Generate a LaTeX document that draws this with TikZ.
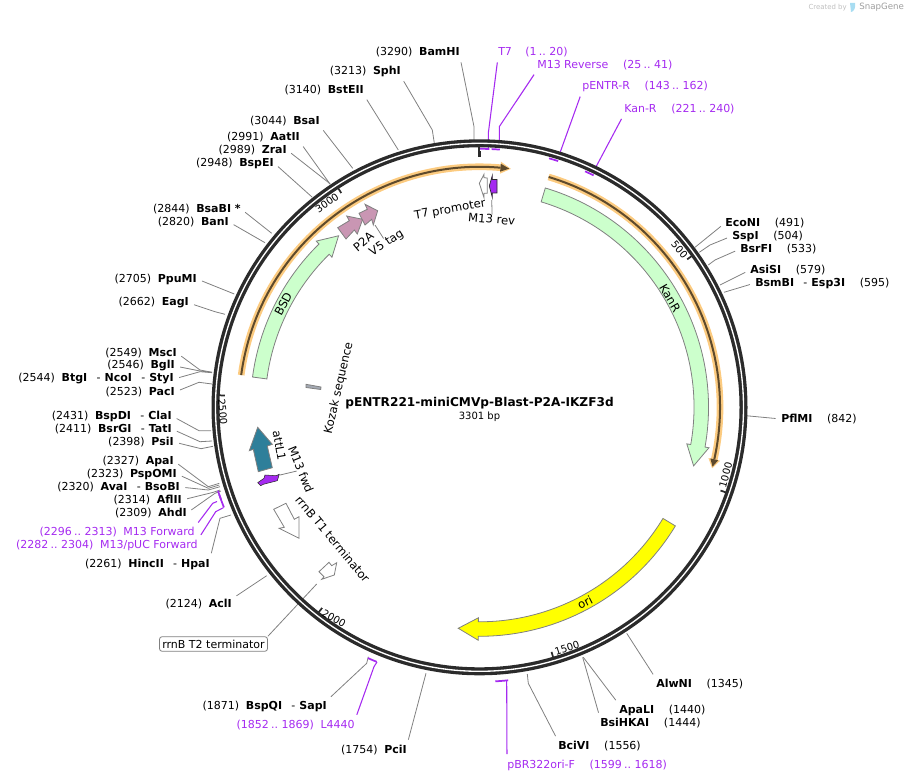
\documentclass[tikz,border=0pt]{standalone}
\usepackage{fontspec}
\setmainfont{DejaVu Sans}
\definecolor{ringdark}{HTML}{2B2B2B}
\definecolor{sitegrey}{HTML}{808080}
\definecolor{primerpurple}{HTML}{A52AF0}
\definecolor{bandorange}{HTML}{FCCB80}
\definecolor{banddark}{HTML}{5E4A2C}
\definecolor{greenfeat}{HTML}{CCFFCC}
\definecolor{yellowfeat}{HTML}{FFFF00}
\definecolor{pinkfeat}{HTML}{C996B3}
\definecolor{tealfeat}{HTML}{2E7F9A}
\definecolor{greyfeat}{HTML}{A3A9B3}
\definecolor{logoblue}{HTML}{A8DDF2}
\newcommand{\sitel}[2]{#1\hspace{5pt}\textbf{#2}}
\newcommand{\siter}[2]{\textbf{#1}\hspace{11pt}#2}
\newcommand{\dd}[1]{\hspace{7pt}{\normalfont-}\hspace{3pt}#1}
\newcommand{\rg}[2]{{\spaceskip=1.7pt (#1 .. #2)}}
\newcommand{\featarc}[4]{%
  \draw[feat,#1] (#2:229) arc[start angle=#2,end angle=#3,radius=229] -- (#3:233) -- (#4:222)
    -- (#3:210.5) -- (#3:214.5) arc[start angle=#3,end angle=#2,radius=214.5] -- cycle;}
\newcommand{\bandarc}[3]{%
  \draw[line width=5pt,bandorange] (#1:240.5) arc[start angle=#1,end angle=#2,radius=240.5];
  \fill[bandorange] (#2:246.5) -- (#3:240.5) -- (#2:234.5) -- cycle;
  \draw[line width=1.5pt,banddark] (#1:240.5) arc[start angle=#1,end angle=#2,radius=240.5];
  \fill[banddark] (#2:244.5) -- (#3+0.4:240.5) -- (#2:236.5) -- cycle;}
\tikzset{
  sitelab/.style={inner sep=0pt,font=\fontsize{8.25}{10}\selectfont},
  primerlab/.style={sitelab,text=primerpurple},
  featlab/.style={inner sep=0pt,font=\fontsize{8.7}{10}\selectfont},
  ticklab/.style={inner sep=0pt,font=\fontsize{7.5}{9}\selectfont},
  siteline/.style={draw=sitegrey,line width=0.6pt,shorten <=4pt},
  primerline/.style={draw=primerpurple,line width=0.8pt,shorten <=4pt},
  feat/.style={draw=sitegrey,line width=0.6pt,line join=miter},
  tick/.style={draw=ringdark,line width=1.3pt}
}
\begin{document}
\begin{tikzpicture}[x=0.75pt,y=0.75pt]
  \useasboundingbox (0,0) rectangle (907,-781);
  \coordinate (O) at (479.5,-407.3);

  % restriction sites
  \foreach \nm/\xx/\yy/\anc/\att/\txt/\kx/\ky/\ex/\ey in {
    bamhi/460/52/east/south east/{\sitel{(3290)}{BamHI}}/474/126.7/474/141,
    sphi/401/71/east/south east/{\sitel{(3213)}{SphI}}/432.3/130/434.3/143,
    bsteii/364/90/east/south east/{\sitel{(3140)}{BstEII}}/398.3/150/398.3/150,
    bsai/320/121/east/south east/{\sitel{(3044)}{BsaI}}/352.7/168.3/352.7/168.3,
    aatii/300/137/east/south east/{\sitel{(2991)}{AatII}}/330/184/330/184,
    zrai/287/150/east/east/{\sitel{(2989)}{ZraI}}/328.5/182.5/330/184,
    bspei/274/163/east/east/{\sitel{(2948)}{BspEI}}/312/197/312/197,
    bsabi/241/209/east/east/{\sitel{(2844)}{BsaBI *}}/271.7/233.3/271.7/233.3,
    bani/229/222/east/east/{\sitel{(2820)}{BanI}}/265/242.7/265/242.7,
    ppumi/197/279/east/east/{\sitel{(2705)}{PpuMI}}/234.3/294/234.3/294,
    eagi/189/303/east/east/{\sitel{(2662)}{EagI}}/215/311.7/225/314.3,
    msci/177/353/east/east/{\sitel{(2549)}{MscI}}/200/370/212/372.3,
    bgli/175/366/east/east/{\sitel{(2546)}{BglI}}/200/371/212/372.3,
    btgi/174/379/east/east/{\sitel{(2544)}{BtgI\dd{NcoI}\dd{StyI}}}/200/371.7/212/372.7,
    paci/175/392/east/east/{\sitel{(2523)}{PacI}}/199/382.3/212/384,
    bspdi/172/416/east/east/{\sitel{(2431)}{BspDI\dd{ClaI}}}/199/430.7/211/430.7,
    bsrgi/172/429/east/east/{\sitel{(2411)}{BsrGI\dd{TatI}}}/200/441.7/212/441,
    psii/174/442/east/east/{\sitel{(2398)}{PsiI}}/201/448.7/213/446.3,
    apai/174/461/east/east/{\sitel{(2327)}{ApaI}}/208.3/486.7/219.3/483.3,
    pspomi/177/474/east/east/{\sitel{(2323)}{PspOMI}}/208.3/488.3/219.3/485,
    avai/180/487/east/east/{\sitel{(2320)}{AvaI\dd{BsoBI}}}/208.3/490/220/486.7,
    aflii/182/500/east/east/{\sitel{(2314)}{AflII}}/213.3/492.3/220/490,
    ahdi/187/513/east/east/{\sitel{(2309)}{AhdI}}/215/493.3/221/491,
    hincii/210/564/east/north east/{\sitel{(2261)}{HincII\dd{HpaI}}}/220/518.3/231/515,
    acli/232/604/east/north east/{\sitel{(2124)}{AclI}}/266.7/575.7/266.7/575.7,
    bspqi/327/706/east/north east/{\sitel{(1871)}{BspQI\dd{SapI}}}/366.7/663.3/368.3/656.7,
    pcii/407/750/east/north east/{\sitel{(1754)}{PciI}}/426/673.3/426/673.3,
    econi/725/223/west/west/{\siter{EcoNI}{(491)}}/695/247.3/695/247.3,
    sspi/732/236/west/west/{\siter{SspI}{(504)}}/710/245/699.3/252.3,
    bsrfi/740/249/west/west/{\siter{BsrFI}{(533)}}/715/260/708.3/265,
    asisi/750/270/west/west/{\siter{AsiSI}{(579)}}/720/285/720/285,
    bsmbi/755/283/west/west/{\siter{BsmBI\dd{Esp3I}}{(595)}}/724/292.3/724/292.3,
    pflmi/781/419/west/west/{\siter{PflMI}{(842)}}/746/415.7/746/415.7,
    alwni/656/684/west/north west/{\siter{AlwNI}{(1345)}}/626.7/633.3/626.7/633.3,
    apali/619/710/west/north west/{\siter{ApaLI}{(1440)}}/583.3/657.3/583.3/657.3,
    bsihkai/600/723/west/north west/{\siter{BsiHKAI}{(1444)}}/582.7/657.3/582.7/657.3,
    bcivi/558/746/west/north west/{\siter{BciVI}{(1556)}}/528.3/683.3/527.3/674}
  {
    \node[sitelab,anchor=\anc] (\nm) at (\xx,-\yy) {\txt};
    \coordinate (\nm-k) at (\kx,-\ky);
    \coordinate (\nm-e) at (\ex,-\ey);
    \draw[siteline] (\nm.\att) -- (\nm-k) -- (\nm-e);
  }

  % primers
  \foreach \nm/\xx/\yy/\anc/\att/\txt/\kx/\ky/\ex/\ey in {
    tsev/498/52/west/south west/{T7\hspace{10pt}\rg{1}{20}}/488.3/133.3/488.3/148,
    mrev/537/65/west/south west/{M13 Reverse\hspace{11pt}\rg{25}{41}}/499.3/126.7/499.3/148,
    pentr/582/86/west/south west/{pENTR-R\hspace{11pt}\rg{143}{162}}/561/150/558/158,
    kanr/624/109/west/south west/{Kan-R\hspace{11pt}\rg{221}{240}}/597/165/591/172,
    mfwd/195/532/east/north east/{\rg{2296}{2313}\hspace{5pt}M13 Forward}/212.7/503.3/217/501.5,
    mpuc/198/545/east/north east/{\rg{2282}{2304}\hspace{5pt}M13/pUC Forward}/215.7/511.7/223.3/507.7,
    lfour/355/725/east/north east/{\rg{1852}{1869}\hspace{5pt}L4440}/374/666.7/377/662,
    pbr/507/765/west/north west/{pBR322ori-F\hspace{11pt}\rg{1599}{1618}}/506.7/683.3/506.7/681}
  {
    \node[primerlab,anchor=\anc] (\nm) at (\xx,-\yy) {\txt};
    \coordinate (\nm-k) at (\kx,-\ky);
    \coordinate (\nm-e) at (\ex,-\ey);
    \draw[primerline] (\nm.\att) -- (\nm-k) -- (\nm-e);
  }

  % terminator box
  \node[sitelab,draw=sitegrey,rounded corners=2pt,line width=0.6pt,minimum width=81pt,minimum height=11pt] (tt) at (213.5,-644) {rrnB T2 terminator};
  \coordinate (tt-e) at (316.7,-584);
  \draw[siteline,shorten <=0pt] (tt.north east) -- (tt-e);

  % backbone
  \draw[line width=6pt,ringdark] (O) circle[radius=264];
  \draw[line width=1pt,white] (O) circle[radius=264];

  \begin{scope}[shift={(O)}]
    % ticks every 500 bp
    \foreach \pos in {500,1000,...,3000}
    {
      \draw[tick] ({90-\pos/3301*360}:262) -- ({90-\pos/3301*360}:255);
    }
    % primer bars
    \foreach \sa/\ea/\rad in {89.9/87.8/258.5, 87.3/85.5/258.5, 74.4/72.3/258.5, 65.9/63.8/258.5,
      -84/-86.7/274.5, -112/-114/274.5, -158.6/-161.4/274.5, -160.4/-162.3/274.5}
    {
      \draw[primerpurple,line width=1.3pt] (\sa:\rad) arc[start angle=\sa,end angle=\ea,radius=\rad];
    }
    % features on the map
    \bandarc{172.3}{85}{82.5}
    \bandarc{73.3}{-12.5}{-14.7}
    \featarc{fill=greenfeat}{172.4}{134.5}{129.4}
    \featarc{fill=greenfeat}{73.3}{-10}{-15.3}
    \featarc{fill=yellowfeat}{-31.2}{-90.3}{-95.5}
  \end{scope}

  \draw[ringdark,line width=1pt] (479,-146) -- (479,-157);
  \fill[ringdark] (478,-151.5) rectangle (481,-157);

  % small features
  \draw[feat,fill=white] (479.3,-183.3) -- (484,-174.3) -- (484,-177.7) -- (487.3,-178) -- (487.3,-193.3) -- (484,-193.3) -- (484,-197.7) -- cycle;
  \draw[fill=primerpurple,draw=ringdark,line width=0.5pt] (489.3,-186) -- (492.3,-175.5) -- (492.3,-179.5) -- (497,-179.5) -- (497,-193) -- (492.3,-193) -- (492.3,-197.5) -- cycle;
  \draw[feat,fill=pinkfeat] (337.7,-227.7) -- (349.3,-220.7) -- (346.7,-216) -- (362.7,-219.3) -- (357.3,-234) -- (354.3,-230) -- (346,-239) -- cycle;
  \draw[feat,fill=pinkfeat] (359,-213.3) -- (367.3,-209.3) -- (365,-204.3) -- (377.7,-210.7) -- (373.3,-225) -- (371.7,-219.3) -- (365,-225) -- cycle;
  \draw[feat,fill=tealfeat] (257.7,-427.3) -- (272.3,-444.3) -- (267.3,-446) -- (272.3,-467.7) -- (258.3,-471.7) -- (253.3,-449.3) -- (249.3,-450.7) -- cycle;
  \draw[fill=primerpurple,draw=ringdark,line width=0.4pt] (257.7,-482.7) -- (264,-478.3) -- (265,-475) -- (276,-475.7) -- (279.3,-474.3) -- (277.3,-480.7) -- (263.3,-484.3) -- (260.7,-485.7) -- cycle;
  \draw[feat,fill=white] (273.7,-509.3) -- (286,-503.3) -- (294.3,-519.3) -- (299,-516.7) -- (299,-538.3) -- (279,-528.3) -- (284.3,-527.3) -- cycle;
  \draw[feat,fill=white] (319,-571.7) -- (329,-562.3) -- (331.7,-565.7) -- (336.7,-562.7) -- (334.3,-575) -- (321.7,-579.3) -- (324,-576.7) -- cycle;
  \draw[feat,fill=greyfeat] (306,-384.3) -- (321,-387) -- (320.7,-389.5) -- (306,-387.5) -- cycle;

  % feature names
  \foreach \nm/\xx/\yy/\rot/\txt in {
    lbsd/283.3/304/62/BSD, lkan/670/298/-60/KanR, lori/585/602.3/27/ori,
    lpta/363.3/241.7/40/P2A, lvf/386.7/243.3/33/V5 tag,
    ltsp/450/210/10/T7 promoter, lmrv/491.7/219/-5/M13 rev,
    lkoz/339/388/77/Kozak sequence, latt/279.3/445.7/-80/attL1,
    lmfd/301/469.3/-68/M13 fwd, lrrn/332.7/539/-50/rrnB T1 terminator}
  {
    \node[featlab,rotate=\rot] (\nm) at (\xx,-\yy) {\txt};
  }
  % scale numbers
  \foreach \nm/\xx/\yy/\rot/\txt in {
    tka/327/203/35/3000, tkb/679.5/249.5/-50/500, tkc/725.7/475/75/1000,
    tkd/567/648/18/1500, tke/334/618.3/-30/2000, tkf/222.7/411.7/-85/2500}
  {
    \node[ticklab,rotate=\rot] (\nm) at (\xx,-\yy) {\txt};
  }
  \coordinate (vfa) at (375,-225);
  \coordinate (mrva) at (491.7,-200);
  \coordinate (mfda) at (280,-475);
  \draw[siteline,shorten <=0pt] (lvf.north) -- (vfa);
  \draw[siteline,shorten <=0pt] (lmrv.north) -- (mrva);
  \draw[siteline,shorten <=0pt] (lmfd.south) -- (mfda);

  % title
  \node[inner sep=0pt,font=\fontsize{9.1}{11}\selectfont] (title) at (479.5,-403) {\textbf{pENTR221-miniCMVp-Blast-P2A-IKZF3d}};
  \node[inner sep=0pt,font=\fontsize{7.5}{9}\selectfont] (size) at (479.5,-416.5) {3301 bp};

  % corner mark
  \node[inner sep=0pt,anchor=east,text=black!25,font=\fontsize{5.2}{6}\selectfont] (made) at (847,-7.5) {Created by};
  \fill[logoblue] (850,-3) -- (855,-3) .. controls (856,-7) and (854,-12) .. (851,-12) -- cycle;
  \node[inner sep=0pt,anchor=west,text=black!38,font=\fontsize{6.5}{8}\selectfont] (brand) at (859,-7.5) {SnapGene};
\end{tikzpicture}
\end{document}
